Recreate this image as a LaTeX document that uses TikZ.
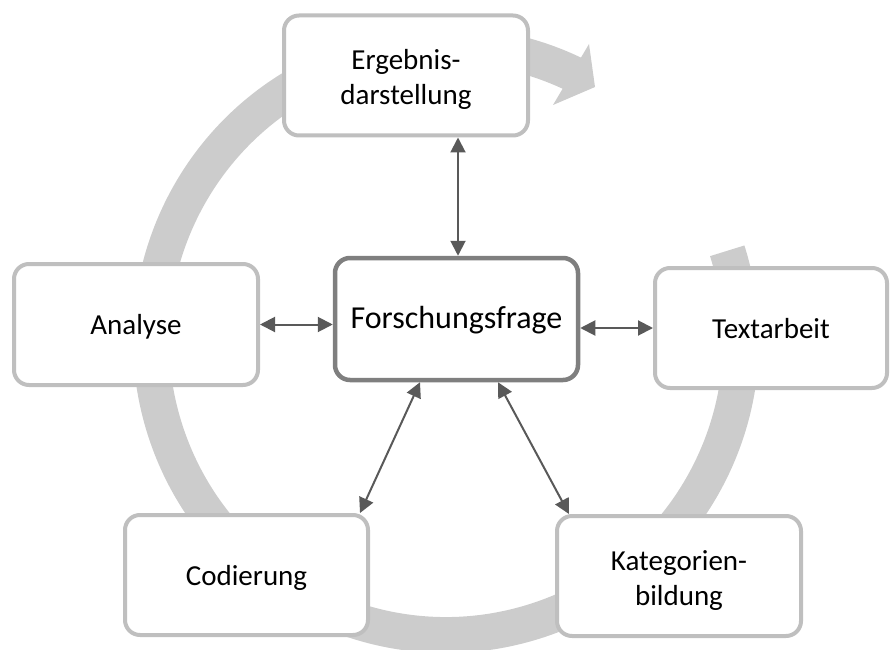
\documentclass[tikz,border=0pt]{standalone}
\usepackage{fontspec}
\setmainfont{Carlito}
\usetikzlibrary{arrows.meta}
\definecolor{ringgray}{RGB}{204,204,204}
\definecolor{boxgray}{RGB}{191,191,191}
\definecolor{fqgray}{RGB}{127,127,127}
\definecolor{arrgray}{RGB}{89,89,89}
\tikzset{
  stepbox/.style={draw=boxgray, line width=4pt, fill=white, rounded corners=15pt,
    inner sep=0pt, align=center, font=\fontsize{29}{35.5}\selectfont,
    text height=20pt, text depth=0pt,
    minimum width=244pt, minimum height=120pt},
  twoline/.style={text height=59pt, text depth=0pt},
  centerbox/.style={stepbox, draw=fqgray, line width=4.5pt, font=\fontsize{32}{38}\selectfont,
    text height=19.5pt},
  biarrow/.style={draw=arrgray, line width=2pt,
    {Triangle[length=15pt,width=15pt]}-{Triangle[length=15pt,width=15pt]}},
  ring/.style={draw=ringgray, line width=36pt, line cap=butt}
}
\begin{document}
\begin{tikzpicture}[x=1pt,y=1pt]
\useasboundingbox (0,0) rectangle (890,649);
% circular process arrow
\draw[ring] (727.2,398.2) arc[start angle=17.6, end angle=-296.5, radius=295pt];
\fill[ringgray] (589,605) -- (595,562) -- (553,544) -- cycle;
% boxes
\node[stepbox, twoline] (erg) at (406,573.5) {Ergebnis-\\darstellung};
\node[stepbox, minimum height=121pt] (ana) at (136,324.5) {Analyse};
\node[centerbox, minimum width=243pt, minimum height=122pt] (fq) at (456.5,330) {Forschungsfrage};
\node[stepbox, minimum width=232pt] (tex) at (771,321) {Textarbeit};
\node[stepbox, minimum width=243pt] (cod) at (246.5,74) {Codierung};
\node[stepbox, twoline] (kat) at (679,73) {Kategorien-\\bildung};
% connectors
\draw[biarrow] ([xshift=1.5pt]fq.north |- erg.south) -- ([xshift=1.5pt]fq.north);
\draw[biarrow] (ana.east) -- (ana.east -| fq.west);
\draw[biarrow] ([yshift=-9pt]fq.east) -- ([yshift=-9pt]fq.east -| tex.west);
\draw[biarrow] ([xshift=-36.5pt]fq.south) -- ([xshift=-10pt]cod.north east);
\draw[biarrow] ([xshift=41.5pt]fq.south) -- ([xshift=14pt]kat.north west);
\end{tikzpicture}
\end{document}
